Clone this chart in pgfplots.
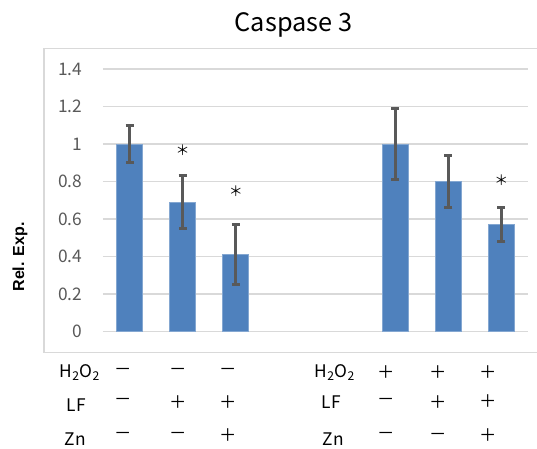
\documentclass[border=0pt]{standalone}
\usepackage{fontspec}
\setmainfont{Noto Sans CJK JP}
\newfontfamily\arialfont{Liberation Sans}
\usepackage{pgfplots}
\pgfplotsset{compat=1.18}
\definecolor{barblue}{HTML}{4F81BD}
\definecolor{gridgray}{HTML}{D9D9D9}
\definecolor{tickgray}{HTML}{595959}
\definecolor{errgray}{HTML}{595959}
\begin{document}
\begin{tikzpicture}
\useasboundingbox (0,0) rectangle (402.75pt,336.75pt);
\begin{axis}[
  at={(77.25pt,87.975pt)}, anchor=south west,
  scale only axis, width=318.75pt, height=197.03pt,
  xmin=-0.5, xmax=7.5, ymin=0, ymax=1.4,
  axis line style={draw=none},
  major tick style={draw=none},
  xtick=\empty,
  ytick={0,0.2,0.4,0.6,0.8,1,1.2,1.4},
  ymajorgrids,
  grid style={gridgray, line width=1pt},
  yticklabel style={font=\fontsize{13}{15}\selectfont, text=tickgray, xshift=-12pt},
  /pgf/number format/assume math mode=true,
  /pgf/number format/fixed,
  clip=false,
  ybar, bar width=19.5pt,
]
\addplot[fill=barblue, draw=barblue!70!white, line width=0.5pt,
  error bars/.cd, y dir=both, y explicit,
  error bar style={line width=2.2pt, color=errgray},
  error mark options={rotate=90, mark size=3pt, line width=2.2pt, color=errgray}]
  table[x=x, y=y, y error=e] {
x y e
0 1.00 0.10
1 0.69 0.14
2 0.41 0.16
5 1.00 0.19
6 0.80 0.14
7 0.57 0.09
};
\node[font=\fontsize{10.5}{12}\selectfont, inner sep=0pt] at (axis cs:1,0.969) {＊};
\node[font=\fontsize{10.5}{12}\selectfont, inner sep=0pt] at (axis cs:2,0.747) {＊};
\node[font=\fontsize{10.5}{12}\selectfont, inner sep=0pt] at (axis cs:7,0.809) {＊};
\end{axis}
\begin{scope}[x=0.75pt, y=0.75pt]
\draw[gridgray, line width=1.1pt] (540,96.3) -- (44,96.3) -- (44,400.7) -- (540,400.7);
\node[anchor=base, font=\fontsize{19}{22}\selectfont] at (293.5,417.3) {Caspase 3};
\node[rotate=90, font=\arialfont\bfseries\fontsize{12}{14}\selectfont] at (20,192) {Rel. Exp.};
\begin{scope}[every node/.style={font=\fontsize{13}{15}\selectfont}]
% row labels
\node[anchor=base west] at (55,71.5) {H\textsubscript{2}O\textsubscript{2}};
\node[anchor=base west] at (62,37.3) {LF};
\node[anchor=base west] at (60,3) {Zn};
\node[anchor=base west] at (310,71.5) {H\textsubscript{2}O\textsubscript{2}};
\node[anchor=base west] at (317,40) {LF};
\node[anchor=base west] at (318,3) {Zn};
% signs left
\node at (123.3,77) {－};
\node at (178.3,77) {－};
\node at (227.7,77) {－};
\node at (123.3,47) {－};
\node at (178.3,47) {＋};
\node at (227.7,47) {＋};
\node at (123.3,13) {－};
\node at (178.3,13) {－};
\node at (227.7,14) {＋};
% signs right
\node at (386,77) {＋};
\node at (438.3,77) {＋};
\node at (488.3,77) {＋};
\node at (386,47) {－};
\node at (438.3,47) {＋};
\node at (488.3,48) {＋};
\node at (386,13) {－};
\node at (438.3,12) {－};
\node at (488.3,14) {＋};
\end{scope}
\end{scope}
\end{tikzpicture}
\end{document}
